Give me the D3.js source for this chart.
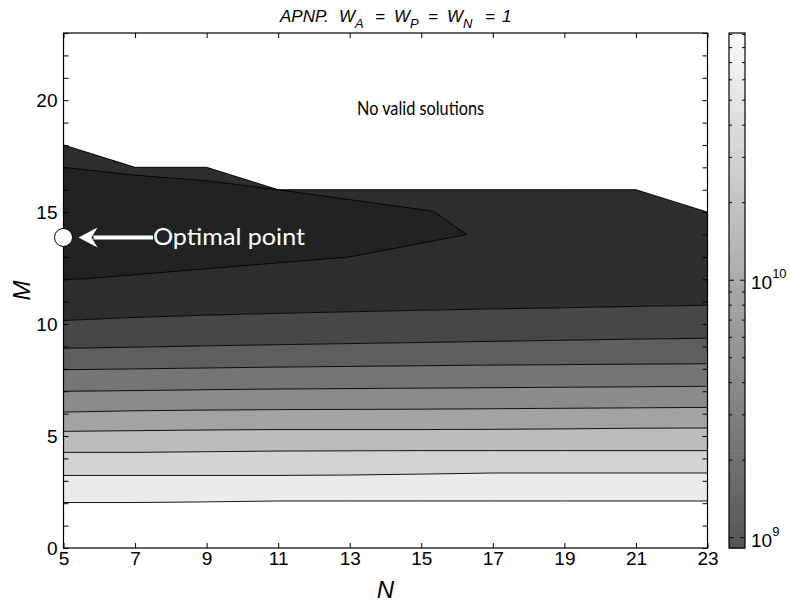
<!DOCTYPE html>
<html>
<head>
<meta charset="utf-8">
<script src="https://cdn.jsdelivr.net/npm/d3@7"></script>
<style>
  body { margin: 0; background: #fff; }
  svg { display: block; }
  text { font-family: "Liberation Sans", Arial, sans-serif; fill: #000; }
</style>
</head>
<body>
<div id="chart"></div>
<script>
var W = 790, H = 603;

// grid columns (N)
var nVals = [5, 7, 9, 11, 13, 15, 17, 19, 21, 23];

// contour boundaries, M value at each N (bottom to top)
var bound1 = [2.03, 2.03, 2.06, 2.1, 2.1, 2.1, 2.1, 2.1, 2.1, 2.1];
var bound2 = [3.24, 3.24, 3.24, 3.24, 3.26, 3.3, 3.35, 3.35, 3.35, 3.35];
var bound3 = [4.27, 4.27, 4.3, 4.33, 4.34, 4.35, 4.35, 4.35, 4.35, 4.35];
var bound4 = [5.21, 5.24, 5.27, 5.29, 5.29, 5.29, 5.3, 5.32, 5.35, 5.36];
var bound5 = [6.07, 6.13, 6.16, 6.18, 6.19, 6.2, 6.22, 6.24, 6.26, 6.28];
var bound6 = [7.0, 7.03, 7.07, 7.1, 7.12, 7.14, 7.16, 7.18, 7.2, 7.22];
var bound7 = [7.96, 8.0, 8.04, 8.08, 8.11, 8.14, 8.17, 8.19, 8.21, 8.23];
var bound8 = [8.92, 8.97, 9.03, 9.08, 9.13, 9.18, 9.23, 9.28, 9.33, 9.37];
var bound9 = [10.16, 10.3, 10.4, 10.48, 10.55, 10.62, 10.68, 10.73, 10.79, 10.84];
// upper limit of valid solutions
var validTop = [18, 17, 17, 16, 16, 16, 16, 16, 16, 15];

// innermost contour around the optimum, [N, M]
var innerUpper = [[5, 17], [7, 16.65], [9, 16.4], [11, 16], [15.34, 15.04], [16.27, 14]];
var innerLower = [[5, 12], [5.6, 12.02], [13, 13], [16.27, 14]];

var bandColors = ["#ffffff", "#ebebeb", "#d3d3d3", "#bcbcbc", "#a3a3a3", "#8b8b8b",
                  "#757575", "#5e5e5e", "#474747", "#2e2e2e"];
var innerColor = "#222222";

var optimal = [5, 13.87];

var yLabels = [0, 5, 10, 15, 20];
var cbDomain = [Math.pow(10, 8.96), Math.pow(10, 10.96)];
var cbMajor = [1e9, 1e10];

//--------------------------------

var svg = d3.select("#chart").append("svg").attr("width", W).attr("height", H);

var x = d3.scaleLinear().domain([5, 23]).range([63.5, 707.5]);
var y = d3.scaleLinear().domain([0, 23]).range([548, 33]);

var bounds = [bound1, bound2, bound3, bound4, bound5, bound6, bound7, bound8, bound9];
var zeros = nVals.map(function () { return 0; });
var levels = [zeros].concat(bounds).concat([validTop]);

var plot = svg.append("g");

// bands
var area = d3.area()
  .x(function (d) { return x(d.n); })
  .y0(function (d) { return y(d.lo); })
  .y1(function (d) { return y(d.hi); });

bandColors.forEach(function (c, i) {
  var pts = nVals.map(function (n, j) {
    return { n: n, lo: levels[i][j], hi: levels[i + 1][j] };
  });
  plot.append("path").attr("d", area(pts)).attr("fill", c).attr("stroke", c).attr("stroke-width", 0.3);
});

// inner region
var innerPoly = innerUpper.concat(innerLower.slice().reverse());
plot.append("path")
  .attr("d", d3.line().x(function (d) { return x(d[0]); }).y(function (d) { return y(d[1]); })(innerPoly) + "Z")
  .attr("fill", innerColor);

// contour lines
var line = d3.line()
  .x(function (d) { return x(d[0]); })
  .y(function (d) { return y(d[1]); });

bounds.concat([validTop]).forEach(function (b) {
  plot.append("path")
    .attr("d", line(nVals.map(function (n, j) { return [n, b[j]]; })))
    .attr("fill", "none").attr("stroke", "#000").attr("stroke-width", 0.9);
});
[innerUpper, innerLower].forEach(function (b) {
  plot.append("path").attr("d", line(b))
    .attr("fill", "none").attr("stroke", "#000").attr("stroke-width", 0.9);
});

// axes
function styleAxis(g) {
  g.select(".domain").remove();
  g.selectAll(".tick line").attr("stroke", "#000");
  g.selectAll(".tick text").style("font-size", "19px").style("font-family", "Liberation Sans, Arial, sans-serif");
}

svg.append("g").attr("transform", "translate(" + x(5) + ",0)")
  .call(d3.axisLeft(y).tickValues(d3.range(0, 24)).tickSize(-5).tickPadding(6)
    .tickFormat(function (d) { return yLabels.indexOf(d) >= 0 ? d : ""; }))
  .call(styleAxis);

svg.append("g").attr("transform", "translate(" + x(23) + ",0)")
  .call(d3.axisRight(y).tickValues(d3.range(0, 24)).tickSize(-5).tickFormat(""))
  .call(styleAxis);

svg.append("g").attr("transform", "translate(0," + y(0) + ")")
  .call(d3.axisBottom(x).tickValues(nVals).tickSize(-5).tickPadding(4))
  .call(styleAxis);

svg.append("g").attr("transform", "translate(0," + y(23) + ")")
  .call(d3.axisTop(x).tickValues(nVals).tickSize(-5).tickFormat(""))
  .call(styleAxis);

svg.append("rect")
  .attr("x", x(5)).attr("y", y(23))
  .attr("width", x(23) - x(5)).attr("height", y(0) - y(23))
  .attr("fill", "none").attr("stroke", "#000").attr("stroke-width", 1.2);

// annotations
svg.append("text").attr("x", 357).attr("y", 115)
  .style("font-family", "Lato, 'Open Sans', sans-serif").style("font-size", "20px")
  .attr("textLength", 127).attr("lengthAdjust", "spacingAndGlyphs")
  .text("No valid solutions");

var oy = y(optimal[1]);
svg.append("line")
  .attr("x1", x(optimal[0]) + 30).attr("y1", oy)
  .attr("x2", 153).attr("y2", oy)
  .attr("stroke", "#fff").attr("stroke-width", 4);
svg.append("path")
  .attr("d", "M" + (x(optimal[0]) + 15) + "," + oy +
    " L" + (x(optimal[0]) + 34) + "," + (oy - 10) +
    " L" + (x(optimal[0]) + 28) + "," + oy +
    " L" + (x(optimal[0]) + 34) + "," + (oy + 10) + " Z")
  .attr("fill", "#fff");
svg.append("circle")
  .attr("cx", x(optimal[0])).attr("cy", oy).attr("r", 9)
  .attr("fill", "#fff").attr("stroke", "#000").attr("stroke-width", 1);
svg.append("text").attr("x", 153).attr("y", oy + 8)
  .style("font-family", "Lato, 'Open Sans', sans-serif").style("font-size", "24px")
  .attr("textLength", 152).attr("lengthAdjust", "spacingAndGlyphs")
  .style("fill", "#fff")
  .text("Optimal point");

// title (MATLAB-style spacing)
var titleParts = [
  { t: "APNP.", x: 280 }, { t: "W", x: 339 }, { t: "A", sub: true },
  { t: "=", x: 375 }, { t: "W", x: 394 }, { t: "P", sub: true },
  { t: "=", x: 428 }, { t: "W", x: 447 }, { t: "N", sub: true },
  { t: "=", x: 485 }, { t: "1", x: 502 }
];
var title = svg.append("text").attr("y", 22)
  .style("font-size", "17px").style("font-style", "italic");
var inSub = false;
titleParts.forEach(function (p) {
  var ts = title.append("tspan").text(p.t);
  if (p.x !== undefined) ts.attr("x", p.x);
  if (p.sub && !inSub) { ts.attr("dy", 6).style("font-size", "13px"); inSub = true; }
  else if (!p.sub && inSub) { ts.attr("dy", -6); inSub = false; }
});

// axis labels
svg.append("text").attr("x", x(14)).attr("y", 598)
  .attr("text-anchor", "middle").style("font-size", "24px").style("font-style", "italic")
  .text("N");
svg.append("text")
  .attr("transform", "translate(30," + y(11.5) + ") rotate(-90)")
  .attr("text-anchor", "middle").style("font-size", "24px").style("font-style", "italic")
  .text("M");

// colorbar
var cbX = 729, cbW = 16;
var cb = d3.scaleLog().domain(cbDomain).range([548, 33]);
var cbColor = d3.scaleLinear().domain(cb.domain().map(Math.log10)).range(["#555555", "#fafafa"]);

var cbSteps = d3.range(0, 100);
var step = (Math.log10(cbDomain[1]) - Math.log10(cbDomain[0])) / cbSteps.length;
svg.append("g").selectAll("rect").data(cbSteps).enter().append("rect")
  .attr("x", cbX)
  .attr("y", function (d) { return cb(Math.pow(10, Math.log10(cbDomain[0]) + (d + 1) * step)); })
  .attr("width", cbW)
  .attr("height", function (d) {
    var a = Math.log10(cbDomain[0]) + d * step;
    return cb(Math.pow(10, a)) - cb(Math.pow(10, a + step)) + 0.6;
  })
  .attr("fill", function (d) { return cbColor(Math.log10(cbDomain[0]) + (d + 0.5) * step); });

var cbTicks = [];
[8, 9, 10].forEach(function (e) {
  d3.range(1, 10).forEach(function (k) {
    var v = k * Math.pow(10, e);
    if (v >= cbDomain[0] && v <= cbDomain[1]) cbTicks.push(v);
  });
});

var cbg = svg.append("g");
cbTicks.forEach(function (v) {
  var major = cbMajor.indexOf(v) >= 0;
  var len = major ? 5 : 3;
  cbg.append("line").attr("x1", cbX).attr("x2", cbX + len)
    .attr("y1", cb(v)).attr("y2", cb(v)).attr("stroke", "#000");
  cbg.append("line").attr("x1", cbX + cbW).attr("x2", cbX + cbW - len)
    .attr("y1", cb(v)).attr("y2", cb(v)).attr("stroke", "#000");
});
cbMajor.forEach(function (v) {
  var t = cbg.append("text").attr("x", cbX + cbW + 6).attr("y", cb(v) + 9)
    .style("font-size", "19px");
  t.append("tspan").text("10");
  t.append("tspan").attr("dy", -11).style("font-size", "13px").text(Math.round(Math.log10(v)));
});
cbg.append("rect").attr("x", cbX).attr("y", 33).attr("width", cbW).attr("height", 515)
  .attr("fill", "none").attr("stroke", "#000").attr("stroke-width", 1.2);
</script>
</body>
</html>
